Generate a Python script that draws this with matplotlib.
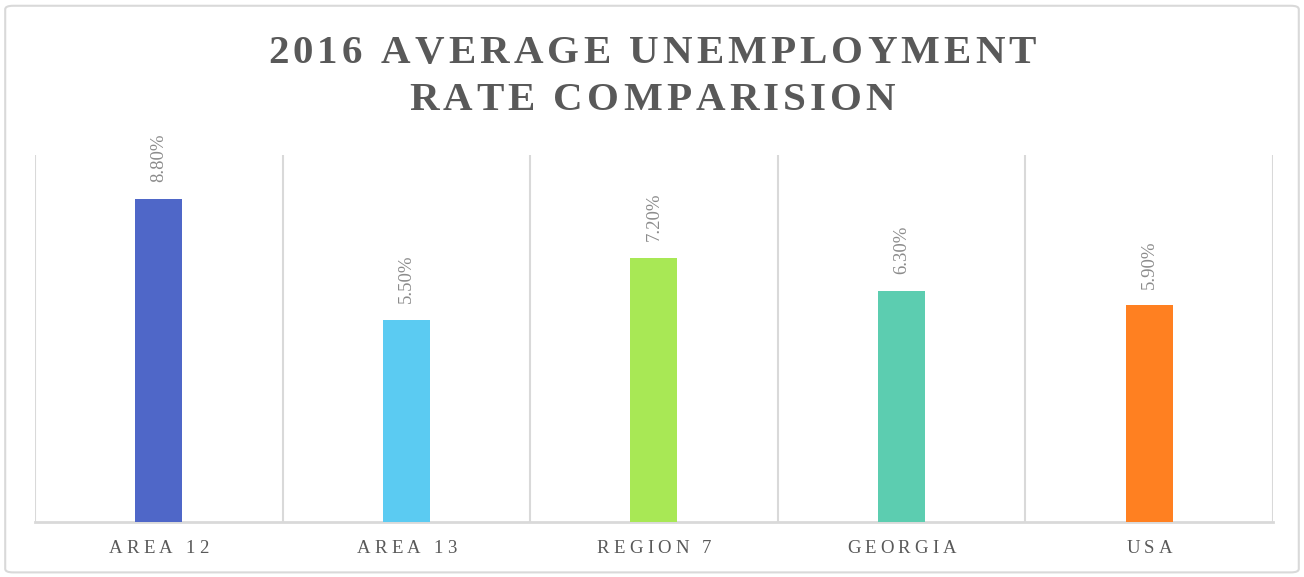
import matplotlib.pyplot as plt
from matplotlib.patches import FancyBboxPatch
from matplotlib.transforms import IdentityTransform
from matplotlib.font_manager import FontProperties, findfont, get_font

categories = ["AREA 12", "AREA 13", "REGION 7", "GEORGIA", "USA"]
rates = [8.8, 5.5, 7.2, 6.3, 5.9]
labels = ["8.80%", "5.50%", "7.20%", "6.30%", "5.90%"]
colors = ["#4F67C8", "#5BCBF2", "#A8E855", "#5CCDB0", "#FF8021"]
title_lines = ["2016 AVERAGE UNEMPLOYMENT", "RATE COMPARISION"]

plt.rcParams['font.family'] = ['Liberation Serif', 'DejaVu Serif']
DPI = 100

fig = plt.figure(figsize=(13.04, 5.77), dpi=DPI)
W, H = 1304, 577
ax = fig.add_axes([0.0268, 0.0953, 0.9494, 0.6361])


def spaced_text(xc, y_base, s, size, track, weight="normal", color="#595959"):
    # draw text with extra letter spacing, centered at xc, baseline at y_base (pixels)
    fp = FontProperties(family="Liberation Serif", weight=weight)
    font = get_font(findfont(fp))
    font.set_size(size, DPI)
    advs = [font.load_char(ord(c)).linearHoriAdvance / 65536 for c in s]
    total = sum(advs) + track * (len(s) - 1)
    x = xc - total / 2
    for c, a in zip(s, advs):
        if c != " ":
            fig.text(x, y_base, c, transform=IdentityTransform(), ha="left", va="baseline",
                     fontsize=size, fontweight=weight, color=color, family="Liberation Serif")
        x += a + track


x = range(len(categories))
ax.bar(x, rates, width=0.19, color=colors, zorder=3)

for i, (v, lab) in enumerate(zip(rates, labels)):
    ax.annotate(lab, (i, v), xytext=(0, 12), textcoords="offset points",
                rotation=90, ha="center", va="bottom", fontsize=13.5, color="#8c8c8c")

ax.set_xlim(-0.5, len(categories) - 0.5)
ax.set_ylim(0, 10)
for b in [i - 0.5 for i in range(len(categories) + 1)]:
    ax.axvline(b, color="#d9d9d9", lw=1.5, zorder=1)

for s in ["top", "left", "right"]:
    ax.spines[s].set_visible(False)
ax.spines["bottom"].set_color("#d9d9d9")
ax.spines["bottom"].set_linewidth(2)
ax.set_yticks([])
ax.set_xticks([])

# category labels
for i, cat in enumerate(categories):
    px, _ = ax.transData.transform((i, 0))
    spaced_text(px, H - 553, cat, 13.5, 4.2, color="#595959")

# title
spaced_text(W / 2, H - 63, title_lines[0], 29.5, 4.1, weight="bold")
spaced_text(W / 2, H - 110, title_lines[1], 29.5, 4.1, weight="bold")

border = FancyBboxPatch((0.004, 0.008), 0.992, 0.982, boxstyle="round,pad=0,rounding_size=0.006",
                        transform=fig.transFigure, fill=False, edgecolor="#d9d9d9", lw=1.5)
fig.patches.append(border)

fig.savefig("out.png", dpi=DPI)
